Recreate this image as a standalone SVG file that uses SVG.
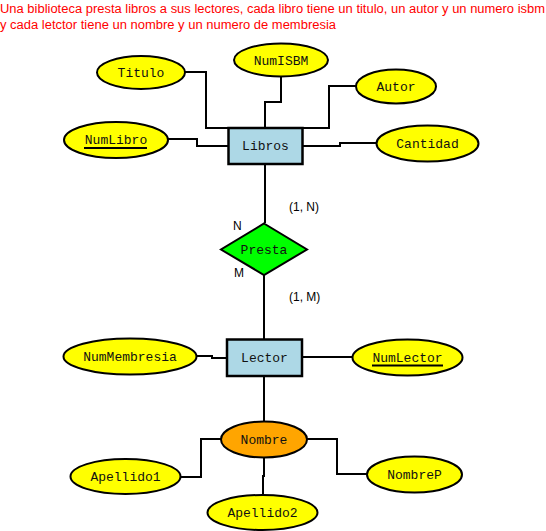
<svg xmlns="http://www.w3.org/2000/svg" width="546" height="531" viewBox="0 0 546 531">
<style>
.title{font-family:"Liberation Sans",Arial,sans-serif;font-size:12px;fill:#ff0000}
.lbl{font-family:"Liberation Mono","Courier New",monospace;font-size:13px;fill:#111;text-anchor:middle}
.card{font-family:"Liberation Sans",Arial,sans-serif;font-size:12px;fill:#000}
.attr{fill:#ffff00;stroke:#000;stroke-width:2}
.ent{fill:#add8e6;stroke:#000;stroke-width:2.5}
.rel{fill:#00ff00;stroke:#000;stroke-width:2}
.comp{fill:#ffa500;stroke:#000;stroke-width:2}
.ul{stroke:#000;stroke-width:2}
#connectors path{fill:none;stroke:#000;stroke-width:2}
</style>
<rect width="546" height="531" fill="#fff"/>
<text class="title" x="0" y="13" textLength="545" lengthAdjust="spacingAndGlyphs">Una biblioteca presta libros a sus lectores, cada libro tiene un titulo, un autor y un numero isbm</text>
<text class="title" x="0" y="29" textLength="336" lengthAdjust="spacingAndGlyphs">y cada letctor tiene un nombre y un numero de membresia</text>
<g id="connectors">
<path d="M185,72 H206 V128 H229"/>
<path d="M281,76 V102 H265 V128"/>
<path d="M356,86 H329 V128 H302"/>
<path d="M167,139 H197 V146 H228"/>
<path d="M302,146 H340 V143 H377"/>
<path d="M265,164 V223"/>
<path d="M264,275 V339"/>
<path d="M197,356 H212 V358 H227"/>
<path d="M302,357 H352"/>
<path d="M264,376 V422"/>
<path d="M221,439 H201 V477 H181"/>
<path d="M264,458 V476 H263 V495"/>
<path d="M307,439 H337 V474 H367"/>
</g>
<g id="Titulo"><ellipse class="attr" cx="141" cy="72.5" rx="44" ry="16.5"/><text class="lbl" x="141" y="77">Titulo</text></g>
<g id="NumISBM"><ellipse class="attr" cx="281" cy="60" rx="47" ry="16.5"/><text class="lbl" x="281" y="64.5">NumISBM</text></g>
<g id="Autor"><ellipse class="attr" cx="396" cy="86.5" rx="40" ry="17"/><text class="lbl" x="396" y="91">Autor</text></g>
<g id="NumLibro"><ellipse class="attr" cx="116" cy="140" rx="52" ry="18"/><text class="lbl" x="116" y="144">NumLibro</text><line class="ul" x1="84" y1="148" x2="147" y2="148"/></g>
<g id="Cantidad"><ellipse class="attr" cx="427.5" cy="143.5" rx="51" ry="18"/><text class="lbl" x="427.5" y="148">Cantidad</text></g>
<g id="Libros"><rect class="ent" x="228.5" y="128" width="74" height="36"/><text class="lbl" x="265.5" y="150">Libros</text></g>
<g id="Presta"><polygon class="rel" points="264,223.5 307,249.5 264,275 221,249.5"/><text class="lbl" x="264" y="254">Presta</text></g>
<g id="cardinalities">
<text class="card" x="233" y="230">N</text>
<text class="card" x="234" y="277">M</text>
<text class="card" x="289" y="211">(1, N)</text>
<text class="card" x="289" y="301">(1, M)</text>
</g>
<g id="NumMembresia"><ellipse class="attr" cx="130" cy="356.5" rx="66.5" ry="18"/><text class="lbl" x="130" y="361">NumMembresia</text></g>
<g id="Lector"><rect class="ent" x="227" y="339.5" width="75" height="36.5"/><text class="lbl" x="264.5" y="362">Lector</text></g>
<g id="NumLector"><ellipse class="attr" cx="407.5" cy="357.5" rx="55" ry="18"/><text class="lbl" x="407.5" y="362">NumLector</text><line class="ul" x1="372" y1="365.5" x2="443" y2="365.5"/></g>
<g id="Nombre"><ellipse class="comp" cx="264" cy="439.5" rx="43" ry="18"/><text class="lbl" x="264" y="444">Nombre</text></g>
<g id="Apellido1"><ellipse class="attr" cx="125.5" cy="476.5" rx="55" ry="17.5"/><text class="lbl" x="125.5" y="481">Apellido1</text></g>
<g id="Apellido2"><ellipse class="attr" cx="262.5" cy="512.5" rx="55" ry="17.5"/><text class="lbl" x="262.5" y="517">Apellido2</text></g>
<g id="NombreP"><ellipse class="attr" cx="414.5" cy="474.5" rx="47.5" ry="18"/><text class="lbl" x="414.5" y="479">NombreP</text></g>
</svg>
